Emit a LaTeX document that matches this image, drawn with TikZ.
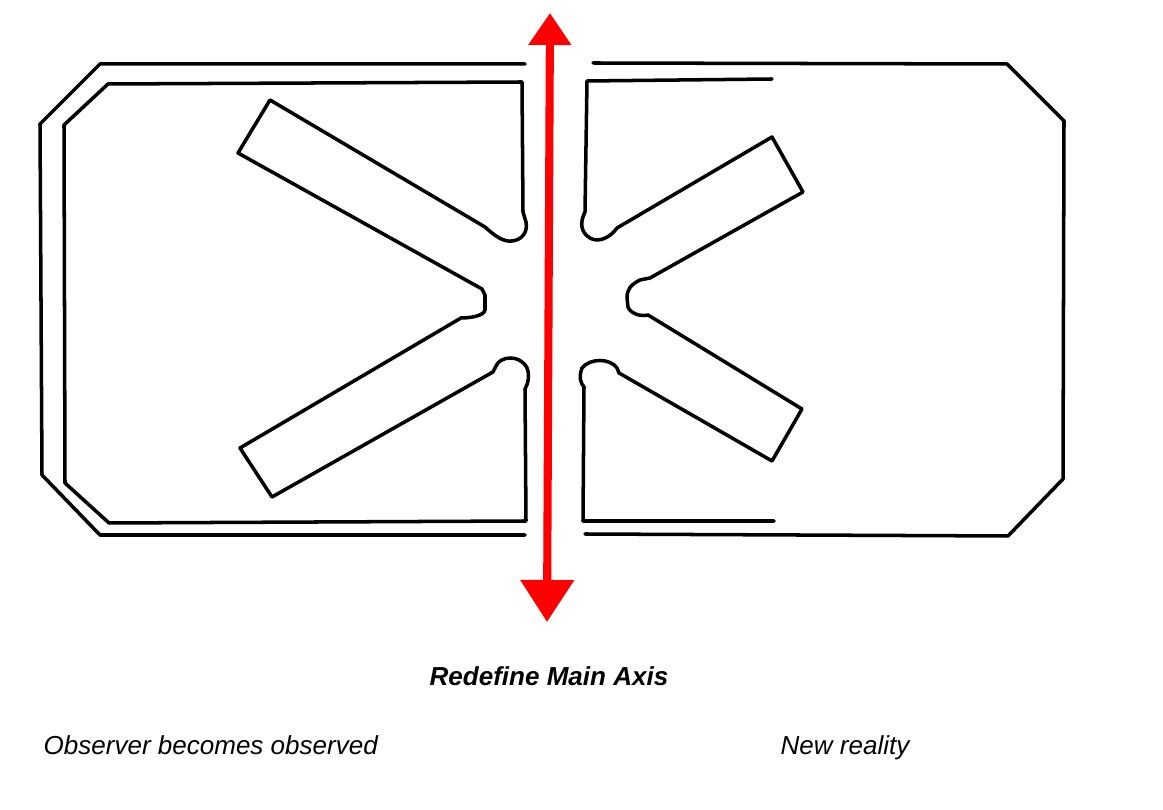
\documentclass[tikz,border=0pt]{standalone}
\usepackage{fontspec}
\setmainfont{Liberation Sans}
\usetikzlibrary{arrows.meta}

\tikzset{
  sketch/.style={line width=1pt, line join=round, line cap=round},
  axis arrow/.style={red, line width=2.3pt,
    {Triangle[width=0.52cm,length=0.42cm]}-{Triangle[width=0.41cm,length=0.32cm]}},
  caption/.style={font=\fontsize{7.4}{9}\selectfont\itshape, inner sep=0pt}
}

\begin{document}
\begin{tikzpicture}[x=0.01cm, y=-0.01cm]
  % Fix the page to the size of the sketch
  \useasboundingbox (0,0) rectangle (1163,810);

  % Outer frame, left half (cut corners on the left)
  \draw[sketch] (525,64) -- (100,64) -- (40,124) -- (42,475) -- (100,535) -- (525,535);

  % Outer frame, right half (cut corners on the right)
  \draw[sketch] (593,63) -- (1007,64) -- (1064,121) -- (1063,479) -- (1008,536) -- (585,534);

  % Inner frame, left half, with its two arms and the V in the middle
  \draw[sketch] (270,100) -- (485,227)
    .. controls (495,236) and (503,242) .. (512,241)
    .. controls (522,240) and (528,232) .. (526,222)
    -- (523,212) -- (522,82) -- (108,84) -- (64,125) -- (65,483) -- (109,523) -- (526,521)
    -- (525,389) .. controls (528,384) and (530,375) .. (527,368)
    .. controls (520,354) and (500,356) .. (496,366) -- (493,372)
    -- (272,497) -- (240,448) -- (461,318)
    .. controls (470,318) and (484,316) .. (485,310) -- (485,295) -- (482,289)
    -- (238,153) -- cycle;

  % Inner frame, right half, with its two arms and the V in the middle
  \draw[sketch] (774,521) -- (583,521) -- (584,387)
    .. controls (580,383) and (579,376) .. (582,368)
    .. controls (590,358) and (610,358) .. (617,368) -- (619,373)
    -- (772,461) -- (802,409) -- (648,315)
    .. controls (640,317) and (630,313) .. (628,307) -- (627,298)
    .. controls (627,290) and (630,285) .. (640,280) -- (650,278)
    -- (803,192) -- (772,137) -- (617,228)
    .. controls (610,238) and (598,243) .. (590,238)
    .. controls (580,232) and (580,222) .. (585,212)
    -- (587,81) -- (772,79);

  % End points of the red axis
  \coordinate (axis bottom) at (547,622);
  \coordinate (axis top)    at (550,13);

  % Red double arrow through the gap
  \draw[axis arrow] (axis bottom) -- (axis top);

  % Captions below the sketch
  \node[caption, anchor=base, font=\fontsize{7.4}{9}\selectfont\bfseries\itshape] (axis label) at (549,686) {Redefine Main Axis};
  \node[caption, anchor=base west] (observer label) at (43,755) {Observer becomes observed};
  \node[caption, anchor=base west] (reality label)  at (780,755) {New reality};
\end{tikzpicture}
\end{document}
